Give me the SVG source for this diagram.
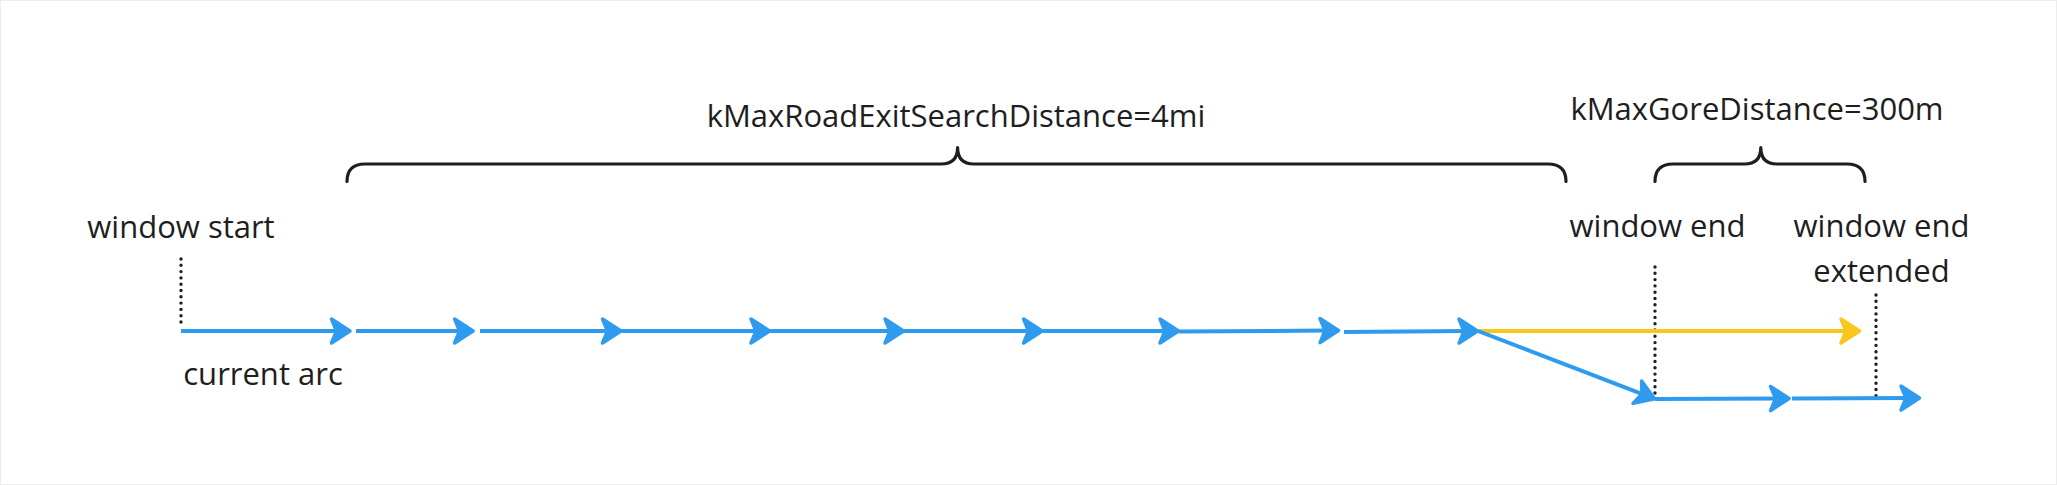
<svg xmlns="http://www.w3.org/2000/svg" width="2057" height="485" viewBox="0 0 2057 485">
<style>
text{font-family:"Open Sans","Noto Sans","Liberation Sans",sans-serif;font-size:31px;fill:#1e1e1e;text-anchor:middle}
.blue{stroke:#2f9bee;stroke-width:4;fill:none;marker-end:url(#ab)}
.yellow{stroke:#f9c71c;stroke-width:4;fill:none;marker-end:url(#ay)}
.brace{stroke:#1e1e1e;stroke-width:3.2;fill:none;stroke-linecap:round;stroke-linejoin:round}
.dot{stroke:#1e1e1e;stroke-width:3.4;stroke-linecap:round;stroke-dasharray:0 6.3;fill:none}
</style>
<defs>
<marker id="ab" markerUnits="userSpaceOnUse" orient="auto" refX="0" refY="0" markerWidth="30" markerHeight="30" overflow="visible">
<path d="M-9,-12 L9.5,0 L-9,12 L-4,0 Z" fill="#2f9bee" stroke="#2f9bee" stroke-width="3.5" stroke-linejoin="round"/>
</marker>
<marker id="ay" markerUnits="userSpaceOnUse" orient="auto" refX="0" refY="0" markerWidth="30" markerHeight="30" overflow="visible">
<path d="M-9,-12 L9.5,0 L-9,12 L-4,0 Z" fill="#f9c71c" stroke="#f9c71c" stroke-width="3.5" stroke-linejoin="round"/>
</marker>
</defs>
<rect x="0.5" y="0.5" width="2056" height="484" fill="#ffffff" stroke="#ededed" stroke-width="1"/>
<g id="braces">
<path class="brace" d="M347,181.5 Q347,164 365,164 L941,164 Q957.6,164 957.6,147.5 Q957.6,164 974,164 L1548,164 Q1566,164 1566,181.5"/>
<path class="brace" d="M1655,181.5 Q1655,164 1673,164 L1744.5,164 Q1760.8,164 1760.8,147.5 Q1760.8,164 1777,164 L1847,164 Q1865,164 1865,181.5"/>
</g>
<g id="labels">
<text x="956" y="127">kMaxRoadExitSearchDistance=4mi</text>
<text x="1757" y="120">kMaxGoreDistance=300m</text>
<text x="181" y="238">window start</text>
<text x="263" y="385">current arc</text>
<text x="1657.5" y="237">window end</text>
<text x="1881.5" y="237">window end</text>
<text x="1881.5" y="282">extended</text>
</g>
<g id="markers-dotted">
<line class="dot" x1="181" y1="259" x2="181" y2="326"/>
<line class="dot" x1="1655" y1="267" x2="1655" y2="397"/>
<line class="dot" x1="1876" y1="295" x2="1876" y2="397"/>
</g>
<g id="connectors">
<line class="blue" x1="181" y1="331" x2="340.5" y2="331"/>
<line class="blue" x1="356" y1="331" x2="463.6" y2="331"/>
<line class="blue" x1="480" y1="331" x2="611.5" y2="331"/>
<line class="blue" x1="621.5" y1="331" x2="760" y2="331"/>
<line class="blue" x1="770" y1="331" x2="894" y2="331"/>
<line class="blue" x1="904" y1="331" x2="1032.6" y2="331"/>
<line class="blue" x1="1042.6" y1="331" x2="1169" y2="331"/>
<line class="blue" x1="1179" y1="331.5" x2="1329" y2="330.5"/>
<line class="blue" x1="1344" y1="332" x2="1468" y2="331"/>
<line class="yellow" x1="1478" y1="331" x2="1850" y2="331"/>
<line class="blue" x1="1478" y1="331" x2="1645.7" y2="395.4"/>
<line class="blue" x1="1655" y1="399" x2="1779.6" y2="398.5"/>
<line class="blue" x1="1792" y1="398.5" x2="1910" y2="398"/>
</g>
</svg>
